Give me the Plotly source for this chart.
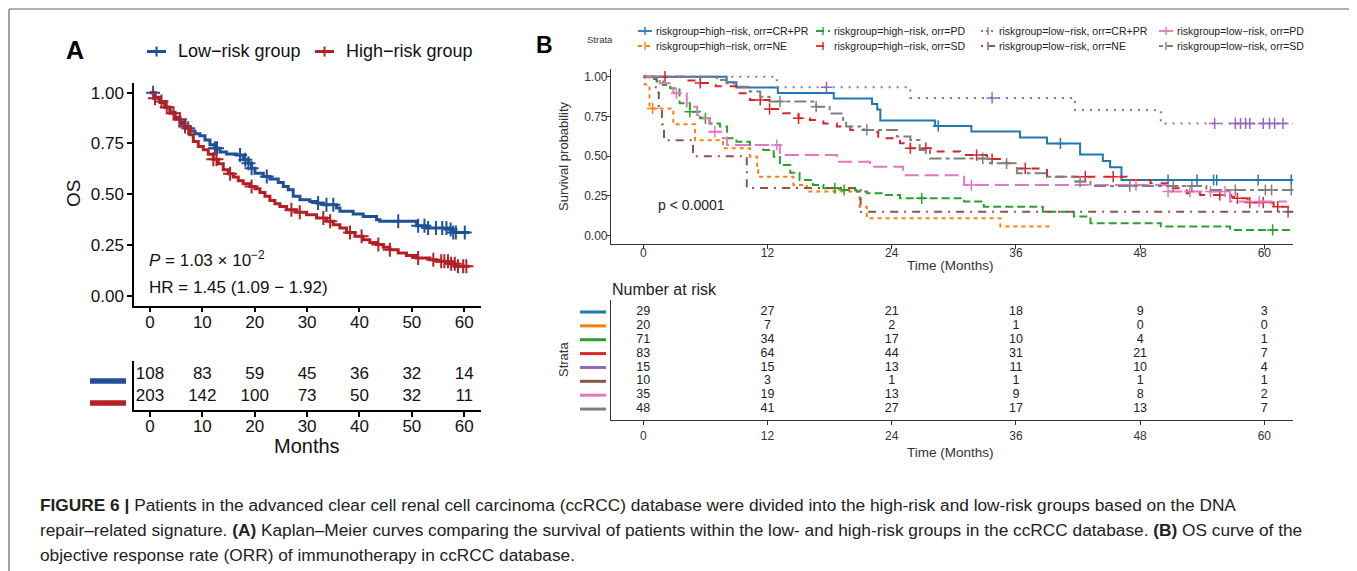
import plotly.graph_objects as go

W, H = 1357, 571
OX, OY = 8, 8          # page body margin of the browser
FW, FH = W - OX, H - OY
FONT = "Liberation Sans, Arial, Helvetica, sans-serif"


def px(x):
    return (x - OX) / FW


def py(y):
    return 1 - (y - OY) / FH


# ---------------- Panel A data ----------------
a_groups = ["Low\u2212risk group", "High\u2212risk group"]
a_colors = ["#1F5096", "#B41F24"]

a_low_t = [0, 0.95, 1.91, 2.86, 3.82, 4.77, 5.73, 6.68, 7.63, 8.59, 9.54, 10.5, 11.45, 12.4, 13.36,
           14.63, 16.54, 17.81, 18.77, 19.4, 20.04, 21.63, 22.9, 24.49, 25.45, 26.4, 27.35, 28.63,
           30.53, 31.81, 33.08, 35.62, 36.26, 38.8, 40.71, 43.26, 43.89, 50.9, 52.8, 57.25, 57.89, 61.0]
a_low_s = [1.0, 0.977, 0.951, 0.928, 0.903, 0.879, 0.857, 0.833, 0.811, 0.797, 0.787, 0.767, 0.743, 0.726,
           0.707, 0.698, 0.693, 0.669, 0.652, 0.628, 0.603, 0.587, 0.574, 0.557, 0.538, 0.521, 0.489, 0.472,
           0.464, 0.456, 0.448, 0.431, 0.415, 0.402, 0.39, 0.374, 0.366, 0.344, 0.333, 0.325, 0.311, 0.311]
a_low_cens = [0.6, 6.7, 12.4, 12.8, 17.2, 18.2, 18.8, 19.4, 22.3, 32.1, 33.7, 35.0, 47.4, 51.2, 52.4,
              53.1, 54.6, 55.8, 56.6, 57.4, 57.9, 58.4, 60.1]

a_high_t = [0, 0.95, 1.91, 2.86, 3.82, 4.77, 5.73, 6.68, 7.63, 8.27, 9.22, 10.18, 11.13, 12.09, 13.04,
            13.99, 14.95, 15.9, 16.86, 17.81, 19.08, 20.04, 21.0, 21.95, 22.9, 23.85, 24.81, 26.08,
            27.99, 29.9, 31.81, 33.72, 34.99, 36.26, 37.53, 39.12, 40.71, 41.98, 43.26, 44.53, 45.8,
            47.39, 48.98, 50.89, 53.44, 54.71, 56.93, 58.21, 61.0]
a_high_s = [1.0, 0.972, 0.956, 0.928, 0.898, 0.869, 0.846, 0.825, 0.792, 0.759, 0.734, 0.718, 0.697, 0.672,
            0.649, 0.62, 0.6, 0.584, 0.566, 0.551, 0.538, 0.526, 0.508, 0.489, 0.469, 0.452, 0.439, 0.423,
            0.41, 0.398, 0.382, 0.366, 0.349, 0.333, 0.311, 0.292, 0.275, 0.262, 0.251, 0.238, 0.226,
            0.21, 0.197, 0.185, 0.177, 0.169, 0.157, 0.144, 0.144]
a_high_cens = [0.95, 2.2, 3.2, 4.5, 5.7, 7.3, 12.1, 12.7, 15.3, 19.4, 27.0, 28.6, 33.1, 34.4, 38.2, 40.4,
               43.6, 45.8, 51.2, 54.1, 55.6, 56.2, 56.9, 57.5, 58.2, 58.8, 59.8, 60.4]

a_risk_times = [0, 10, 20, 30, 40, 50, 60]
a_risk_low = [108, 83, 59, 45, 36, 32, 14]
a_risk_high = [203, 142, 100, 73, 50, 32, 11]
a_xticks = [0, 10, 20, 30, 40, 50, 60]
a_yticks = [0, 0.25, 0.5, 0.75, 1.0]
a_yticklabels = ["0.00", "0.25", "0.50", "0.75", "1.00"]

# ---------------- Panel B data ----------------
b_names = ["riskgroup=high\u2212risk, orr=CR+PR", "riskgroup=high\u2212risk, orr=NE",
           "riskgroup=high\u2212risk, orr=PD", "riskgroup=high\u2212risk, orr=SD",
           "riskgroup=low\u2212risk, orr=CR+PR", "riskgroup=low\u2212risk, orr=NE",
           "riskgroup=low\u2212risk, orr=PD", "riskgroup=low\u2212risk, orr=SD"]
b_colors = ["#1F77B4", "#FF7F0E", "#2CA02C", "#D62728", "#9467BD", "#8C564B", "#E377C2", "#7F7F7F"]
b_dashes = ["solid", "4px,4px", "8px,4px", "8px,8px", "2px,6px", "2px,6px,8px,6px", "14px,6px",
            "4px,4px,12px,4px"]

b_t = [
    [0, 8.05, 9.0, 13.0, 18.4, 22.1, 22.6, 22.9, 28.2, 31.7, 36.4, 39.0, 42.2, 44.4, 45.1, 46.2, 62.8],
    [0, 0.15, 0.6, 2.9, 5.0, 7.7, 10.3, 11.0, 11.1, 14.5, 15.8, 20.9, 21.6, 34.5, 39.6],
    [0, 0.6, 1.3, 1.9, 2.6, 3.5, 4.5, 5.5, 6.4, 7.4, 8.1, 9.0, 10.3, 11.6, 12.6, 13.2, 14.2, 15.1, 16.4,
     17.4, 19.0, 20.6, 21.6, 23.2, 24.8, 31.0, 32.9, 38.6, 41.6, 43.2, 50.0, 56.7, 62.8],
    [0, 3.9, 5.2, 7.0, 9.0, 10.3, 12.2, 13.5, 15.0, 16.1, 17.4, 18.7, 20.0, 21.9, 22.7, 24.8, 25.8, 28.0,
     30.6, 33.2, 35.1, 36.1, 39.0, 46.7, 49.0, 50.6, 52.5, 53.8, 56.8, 57.2, 58.4, 60.9, 62.8],
    [0, 12.9, 25.8, 41.7, 50.0, 62.8],
    [0, 1.2, 1.5, 1.8, 2.0, 4.8, 10.0, 21.0, 62.8],
    [0, 1.6, 2.9, 4.2, 5.2, 5.8, 6.4, 7.7, 8.1, 13.2, 18.7, 21.9, 25.1, 31.0, 50.7, 56.7, 62.2],
    [0, 7.1, 8.05, 8.9, 10.3, 11.3, 12.2, 16.7, 18.0, 19.3, 19.6, 21.3, 24.5, 25.8, 26.7, 27.7, 33.5,
     36.1, 39.0, 41.6, 43.2, 54.4, 62.8],
]
b_s = [
    [1.0, 0.965, 0.931, 0.897, 0.862, 0.828, 0.793, 0.724, 0.69, 0.655, 0.617, 0.58, 0.51, 0.47, 0.43,
     0.35, 0.35],
    [1.0, 0.95, 0.8, 0.70, 0.60, 0.55, 0.497, 0.413, 0.37, 0.319, 0.277, 0.182, 0.109, 0.057, 0.057],
    [1.0, 0.986, 0.97, 0.948, 0.927, 0.832, 0.78, 0.738, 0.706, 0.686, 0.612, 0.591, 0.57, 0.539, 0.497,
     0.444, 0.396, 0.35, 0.319, 0.298, 0.287, 0.277, 0.266, 0.256, 0.235, 0.214, 0.182, 0.151, 0.12,
     0.078, 0.057, 0.036, 0.036],
    [1.0, 0.976, 0.96, 0.94, 0.895, 0.853, 0.797, 0.77, 0.738, 0.727, 0.706, 0.686, 0.665, 0.654, 0.612,
     0.581, 0.55, 0.53, 0.507, 0.482, 0.455, 0.423, 0.371, 0.35, 0.329, 0.298, 0.266, 0.256, 0.245,
     0.235, 0.208, 0.182, 0.182],
    [1.0, 0.933, 0.866, 0.79, 0.706, 0.706],
    [1.0, 0.9, 0.8, 0.7, 0.6, 0.5, 0.3, 0.15, 0.15],
    [1.0, 0.958, 0.895, 0.811, 0.759, 0.738, 0.654, 0.612, 0.570, 0.507, 0.465, 0.434, 0.38, 0.318,
     0.277, 0.214, 0.214],
    [1.0, 0.979, 0.958, 0.937, 0.906, 0.874, 0.843, 0.811, 0.769, 0.727, 0.686, 0.665, 0.623, 0.602,
     0.539, 0.486, 0.455, 0.392, 0.371, 0.34, 0.312, 0.287, 0.287],
]
b_cens = [
    [28.5, 40.3, 50.7, 53.5, 55.1, 55.4, 59.4, 62.6],
    [0.9],
    [4.5, 6.0, 18.5, 19.4, 26.9, 60.8],
    [2.1, 5.5, 11.3, 12.2, 15.0, 25.8, 27.3, 32.2, 33.7, 36.9, 42.7, 45.4, 55.7, 57.4, 58.6, 59.9, 61.3],
    [17.7, 33.7, 55.2, 57.2, 57.7, 58.2, 58.6, 59.9, 60.5, 61.0, 61.8],
    [62.3],
    [3.2, 6.9, 12.9, 31.7, 47.6, 50.7, 52.8, 54.8, 56.2, 59.5],
    [13.2, 16.7, 21.6, 32.8, 35.1, 42.2, 47.0, 51.2, 53.0, 57.2, 60.1, 60.7, 62.6],
]
b_risk_times = [0, 12, 24, 36, 48, 60]
b_risk = [
    [29, 27, 21, 18, 9, 3],
    [20, 7, 2, 1, 0, 0],
    [71, 34, 17, 10, 4, 1],
    [83, 64, 44, 31, 21, 7],
    [15, 15, 13, 11, 10, 4],
    [10, 3, 1, 1, 1, 1],
    [35, 19, 13, 9, 8, 2],
    [48, 41, 27, 17, 13, 7],
]
b_xticks = [0, 12, 24, 36, 48, 60]
b_yticks = [0, 0.25, 0.5, 0.75, 1.0]
b_yticklabels = ["0.00", "0.25", "0.50", "0.75", "1.00"]

caption_lines = [
    "<b>FIGURE 6 |</b> Patients in the advanced clear cell renal cell carcinoma (ccRCC) database were divided "
    "into the high-risk and low-risk groups based on the DNA",
    "repair\u2013related signature. <b>(A)</b> Kaplan\u2013Meier curves comparing the survival of patients "
    "within the low- and high-risk groups in the ccRCC database. <b>(B)</b> OS curve of the",
    "objective response rate (ORR) of immunotherapy in ccRCC database.",
]


def step_at(ts, ss, t):
    v = ss[0]
    for ti, si in zip(ts, ss):
        if ti <= t:
            v = si
        else:
            break
    return v


fig = go.Figure()

# ---- Panel A curves ----
for ts, ss, cens, col in [(a_low_t, a_low_s, a_low_cens, a_colors[0]),
                          (a_high_t, a_high_s, a_high_cens, a_colors[1])]:
    fig.add_trace(go.Scatter(x=ts, y=ss, mode="lines", line=dict(color=col, width=3, shape="hv"),
                             xaxis="x", yaxis="y", hoverinfo="skip", showlegend=False))
    fig.add_trace(go.Scatter(x=cens, y=[step_at(ts, ss, c) for c in cens], mode="markers",
                             marker=dict(symbol="cross-thin", size=10, line=dict(color=col, width=2)),
                             xaxis="x", yaxis="y", hoverinfo="skip", showlegend=False))

# ---- Panel A risk table ----
for row, vals in enumerate([a_risk_low, a_risk_high]):
    fig.add_trace(go.Scatter(x=a_risk_times, y=[row + 1] * len(vals), mode="text",
                             text=[str(v) for v in vals], textfont=dict(size=17, color="#111", family=FONT),
                             xaxis="x2", yaxis="y2", hoverinfo="skip", showlegend=False, cliponaxis=False))

# ---- Panel B curves ----
for i in range(8):
    fig.add_trace(go.Scatter(x=b_t[i], y=b_s[i], mode="lines",
                             line=dict(color=b_colors[i], width=2, shape="hv", dash=b_dashes[i]),
                             xaxis="x3", yaxis="y3", hoverinfo="skip", showlegend=False))
    fig.add_trace(go.Scatter(x=b_cens[i], y=[step_at(b_t[i], b_s[i], c) for c in b_cens[i]], mode="markers",
                             marker=dict(symbol="cross-thin", size=8, line=dict(color=b_colors[i], width=1.5)),
                             xaxis="x3", yaxis="y3", hoverinfo="skip", showlegend=False))

# ---- Panel B risk table ----
for i in range(8):
    fig.add_trace(go.Scatter(x=b_risk_times, y=[i + 1] * 6, mode="text",
                             text=[str(v) for v in b_risk[i]], textfont=dict(size=12.5, color="#222", family=FONT),
                             xaxis="x4", yaxis="y4", hoverinfo="skip", showlegend=False, cliponaxis=False))

axA = dict(showgrid=False, zeroline=False, showline=True, linecolor="#000", linewidth=1.5,
           ticks="outside", ticklen=5, tickwidth=1.5, tickcolor="#000",
           tickfont=dict(size=17, color="#111", family=FONT))
axB = dict(showgrid=False, zeroline=False, showline=True, linecolor="#333", linewidth=1.2,
           ticks="outside", ticklen=4, tickwidth=1, tickcolor="#333",
           tickfont=dict(size=12, color="#333", family=FONT))

fig.update_layout(
    width=FW, height=FH, autosize=False, margin=dict(l=0, r=0, t=0, b=0),
    paper_bgcolor="white", plot_bgcolor="rgba(0,0,0,0)", showlegend=False,
    font=dict(family=FONT, color="#111"),
    xaxis=dict(axA, domain=[px(134), px(481)], range=[-3.05, 63.2], tickvals=a_xticks, anchor="y",
               ticklabelstandoff=-5),
    yaxis=dict(axA, domain=[py(305.7), py(82.5)], range=[-0.05, 1.05], tickvals=a_yticks,
               ticktext=a_yticklabels, anchor="x"),
    xaxis2=dict(axA, domain=[px(134), px(481)], range=[-3.05, 63.2], tickvals=a_xticks, anchor="y2",
                ticklabelstandoff=-5),
    yaxis2=dict(axA, domain=[py(410), py(361)], range=[2.59, 0.364], showticklabels=False, ticks="",
                anchor="x2"),
    xaxis3=dict(axB, domain=[px(611), px(1293.3)], range=[-3.12, 62.8], tickvals=b_xticks, anchor="y3",
                ticklabelstandoff=-6),
    yaxis3=dict(axB, domain=[py(243.6), py(68.7)], range=[-0.05, 1.05], tickvals=b_yticks,
                ticktext=b_yticklabels, anchor="x3", ticklabelstandoff=-4),
    xaxis4=dict(axB, domain=[px(611), px(1293.3)], range=[-3.12, 62.8], tickvals=b_xticks, anchor="y4"),
    yaxis4=dict(axB, domain=[py(420), py(300)], range=[8.79, 0.134], showticklabels=False, ticks="",
                anchor="x4"),
)

ann = []
shapes = []


def text(x, y, s, size, xanchor="center", color="#111", angle=0, bold=False):
    ann.append(dict(x=px(x), y=py(y), xref="paper", yref="paper", text=("<b>%s</b>" % s) if bold else s,
                    showarrow=False, xanchor=xanchor, yanchor="middle", textangle=angle, borderpad=0,
                    font=dict(size=size, color=color, family=FONT)))


# Panel A texts
text(65, 50, "A", 25, xanchor="left", bold=True, color="#000")
text(73, 194, "OS", 19, angle=-90)
text(148, 259, "<i>P</i> = 1.03 \u00d7 10<sup>\u22122</sup>", 17, xanchor="left")
text(148, 287, "HR = 1.45 (1.09 \u2212 1.92)", 17, xanchor="left")
text(307, 446, "Months", 20)
# Panel A legend
leg_a = [(147, 166, 177), (315, 334, 345)]
for (x0, x1, tx), name, col in zip(leg_a, a_groups, a_colors):
    shapes.append(dict(type="line", xref="paper", yref="paper", x0=px(x0), x1=px(x1), y0=py(51.5), y1=py(51.5),
                       line=dict(color=col, width=3)))
    shapes.append(dict(type="line", xref="paper", yref="paper", x0=px((x0 + x1) / 2), x1=px((x0 + x1) / 2),
                       y0=py(46.5), y1=py(56.5), line=dict(color=col, width=2)))
    text(tx, 51, name, 18, xanchor="left")
# Panel A risk table colour keys
for row, col in enumerate(a_colors):
    shapes.append(dict(type="line", xref="paper", yref="y2", x0=px(90), x1=px(126), y0=row + 1.27,
                       y1=row + 1.27, line=dict(color=col, width=5.5)))

# Panel B texts
text(535, 45, "B", 23, xanchor="left", bold=True, color="#000")
text(563, 156, "Survival probability", 13, angle=-90, color="#333")
text(950, 265, "Time (Months)", 13.5, color="#333")
text(657, 205, "p < 0.0001", 14, xanchor="left", color="#222")
text(611, 289, "Number at risk", 16, xanchor="left", color="#222")
text(563, 360, "Strata", 13, angle=-90, color="#333")
text(950, 452, "Time (Months)", 13.5, color="#333")
text(586, 40, "Strata", 9.5, xanchor="left", color="#333")
# Panel B legend (2 rows, column-major)
col_text_x = [655, 833, 998, 1176]
row_y = [31, 46]
for i in range(8):
    c, r = i // 2, i % 2
    tx = col_text_x[c]
    yy = row_y[r]
    kx0, kx1 = tx - 17, tx - 3
    shapes.append(dict(type="line", xref="paper", yref="paper", x0=px(kx0), x1=px(kx1), y0=py(yy), y1=py(yy),
                       line=dict(color=b_colors[i], width=1.8, dash=b_dashes[i] if i != 4 else "2px,3px")))
    shapes.append(dict(type="line", xref="paper", yref="paper", x0=px((kx0 + kx1) / 2), x1=px((kx0 + kx1) / 2),
                       y0=py(yy - 4), y1=py(yy + 4), line=dict(color=b_colors[i], width=1.4)))
    text(tx, yy, b_names[i], 10.5, xanchor="left", color="#222")
# Panel B risk table keys
for i in range(8):
    shapes.append(dict(type="line", xref="paper", yref="y4", x0=px(580), x1=px(606), y0=i + 1, y1=i + 1,
                       line=dict(color=b_colors[i], width=3)))

# Caption
for k, line in enumerate(caption_lines):
    text(39, 505 + 25 * k, line, 17.3, xanchor="left", color="#222")

# Outer frame
for (x0, y0, x1, y1) in [(9, 9, 1353, 9), (9, 9, 9, 571), (1353, 9, 1353, 571)]:
    shapes.append(dict(type="line", xref="paper", yref="paper", x0=px(x0), x1=px(x1), y0=py(y0), y1=py(y1),
                       line=dict(color="#666", width=1.2)))

fig.update_layout(annotations=ann, shapes=shapes)
fig.write_html("out.html")
